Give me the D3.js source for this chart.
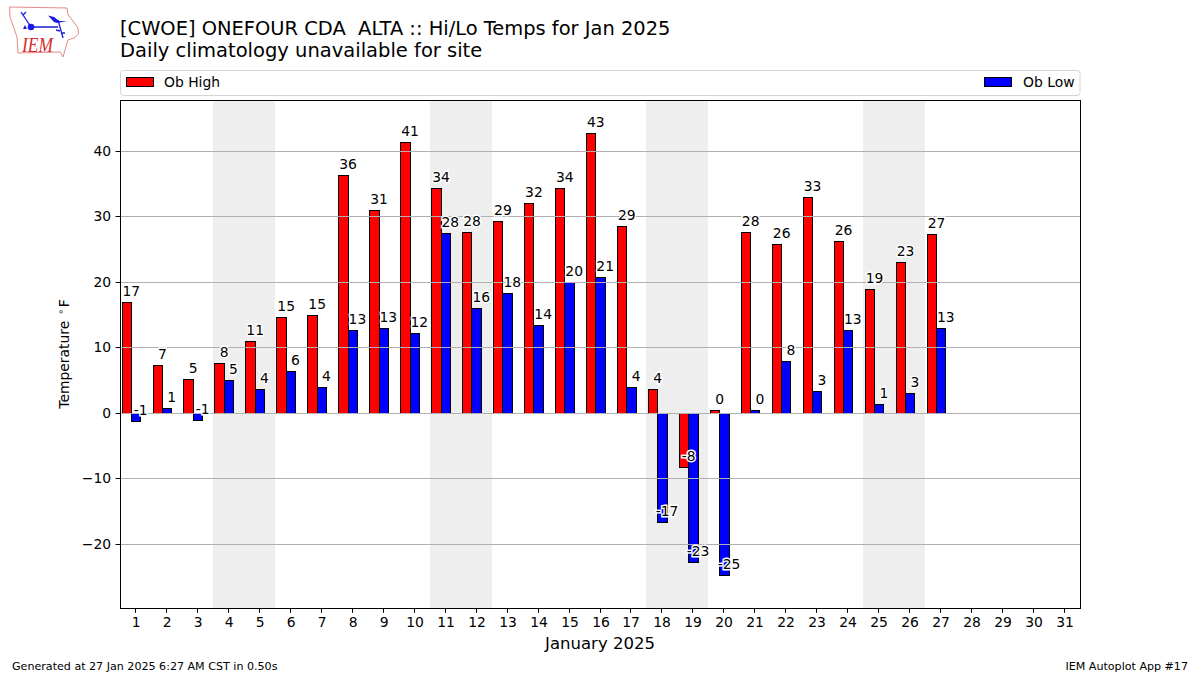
<!DOCTYPE html>
<html><head><meta charset="utf-8">
<script src="https://cdn.jsdelivr.net/npm/d3@7"></script>
<style>html,body{margin:0;padding:0;background:#fff}svg{display:block}text{font-family:"DejaVu Sans",sans-serif;fill:#000}</style>
</head><body><svg id="c" width="1200" height="675"></svg>
<script>
const days = d3.range(1, 28);
const allDays = d3.range(1, 32);
const highs = [16.9,7.3,5.2,7.6,11,14.6,14.9,36.3,31,41.3,34.3,27.6,29.2,32,34.3,42.7,28.5,3.6,-8.3,0.4,27.6,25.7,33,26.2,18.9,23,27.3];
const lows = [-1.2,0.7,-1.1,5,3.6,6.4,3.9,12.6,13,12.2,27.5,16,18.3,13.4,19.9,20.7,3.9,-16.7,-22.8,-24.7,0.4,7.9,3.3,12.6,1.3,3,12.9];
const highLabels = [17,7,5,8,11,15,15,36,31,41,34,28,29,32,34,43,29,4,-8,0,28,26,33,26,19,23,27];
const lowLabels = [-1,1,-1,5,4,6,4,13,13,12,28,16,18,14,20,21,4,-17,-23,-25,0,8,3,13,1,3,13];
const weekends = [[4,5],[11,12],[18,19],[25,26]];
const yTicks = [-20,-10,0,10,20,30,40];

const svg = d3.select("#c");
const L=120,R=1080,T=100,B=608;
const x = d3.scaleLinear().domain([0.5,31.5]).range([L,R]);
const y = d3.scaleLinear().domain([47.72,-29.75]).range([T,B]);
const px = v => Math.round(v)+.5;

svg.append("g").selectAll("rect").data(weekends).join("rect")
  .attr("x",d=>Math.round(x(d[0]-0.5))).attr("width",d=>Math.round(x(d[1]+0.5))-Math.round(x(d[0]-0.5)))
  .attr("y",T).attr("height",B-T).attr("fill","#eeeeee");

function bars(vals,off,col){
  svg.append("g").selectAll("rect").data(vals).join("rect")
    .attr("x",(d,i)=>px(x(days[i]+off))).attr("width",(d,i)=>px(x(days[i]+off+0.3))-px(x(days[i]+off)))
    .attr("y",d=>px(Math.min(y(d),y(0)))).attr("height",d=>px(Math.max(y(d),y(0)))-px(Math.min(y(d),y(0))))
    .attr("fill",col).attr("stroke","#000").attr("stroke-width",1);
}
bars(highs,-0.45,"#ff0000");
bars(lows,-0.15,"#0000ff");

svg.append("g").selectAll("line").data(yTicks).join("line")
  .attr("x1",L).attr("x2",R).attr("y1",d=>px(y(d))).attr("y2",d=>px(y(d)))
  .attr("stroke","#b0b0b0").attr("stroke-width",1);

function labels(vals,labs,off){
  svg.append("g").selectAll("text").data(vals).join("text")
    .attr("x",(d,i)=>x(days[i]+off)+.5).attr("y",d=>y(d)-6)
    .attr("text-anchor","middle").attr("font-size",13.9)
    .attr("stroke","#fff").attr("stroke-width",2.8).attr("paint-order","stroke")
    .text((d,i)=>labs[i]);
}
labels(highs,highLabels,-0.15);
labels(lows,lowLabels,0.15);

svg.append("rect").attr("x",L+.5).attr("y",T+.5).attr("width",R-L).attr("height",B-T)
  .attr("fill","none").attr("stroke","#000").attr("stroke-width",1);

const xAxis = d3.axisBottom(x).tickValues(allDays).tickFormat(d3.format("d")).tickSize(4.9).tickPadding(4.5).offset(0);
const gx = svg.append("g").attr("transform",`translate(0,${B})`).call(xAxis);
gx.select(".domain").remove();
gx.selectAll(".tick").attr("transform",d=>`translate(${Math.floor(x(d))+.5},0)`);
gx.selectAll("text").attr("x",.6).attr("font-size",13.9).style("font-family",'"DejaVu Sans"');
const yAxis = d3.axisLeft(y).tickValues(yTicks).tickFormat(d=>String(d).replace("-","\u2212")).tickSize(4.9).tickPadding(4.5).offset(0);
const gy = svg.append("g").attr("transform",`translate(${L+.5},0)`).call(yAxis);
gy.select(".domain").remove();
gy.selectAll(".tick").attr("transform",d=>`translate(0,${px(y(d))})`);
gy.selectAll("text").attr("font-size",13.9).style("font-family",'"DejaVu Sans"');

svg.append("text").attr("x",120).attr("y",35).attr("font-size",19.45).style("white-space","pre").text("[CWOE] ONEFOUR CDA  ALTA :: Hi/Lo Temps for Jan 2025");
svg.append("text").attr("x",120).attr("y",57).attr("font-size",19.5).text("Daily climatology unavailable for site");

svg.append("rect").attr("x",120.5).attr("y",70.5).attr("width",959.5).attr("height",25).attr("rx",3).attr("fill","#fff").attr("stroke","#d5d5d5");
svg.append("rect").attr("x",126.5).attr("y",77.5).attr("width",27).attr("height",9).attr("fill","#ff0000").attr("stroke","#000");
svg.append("text").attr("x",164).attr("y",86.5).attr("font-size",13.9).text("Ob High");
svg.append("rect").attr("x",984.5).attr("y",77.5).attr("width",27).attr("height",9).attr("fill","#0000ff").attr("stroke","#000");
svg.append("text").attr("x",1023).attr("y",86.5).attr("font-size",13.9).text("Ob Low");

const yl = svg.append("text").attr("transform","translate(68.5,354) rotate(-90)").attr("text-anchor","middle").attr("font-size",13.9).style("white-space","pre");
yl.append("tspan").text("Temperature ");
yl.append("tspan").attr("font-size",9.7).attr("dx",1.5).attr("dy",-5).text("\u2218");
yl.append("tspan").attr("dx",1.5).attr("dy",5).text("F");
svg.append("text").attr("x",600).attr("y",649).attr("text-anchor","middle").attr("font-size",16.5).text("January 2025");
svg.append("text").attr("x",12).attr("y",670).attr("font-size",11.1).text("Generated at 27 Jan 2025 6:27 AM CST in 0.50s");
svg.append("text").attr("x",1188).attr("y",670).attr("text-anchor","end").attr("font-size",11.1).text("IEM Autoplot App #17");

const logo = svg.append("g");
logo.append("path").attr("d","M9.5 7 L67 8 L68 15 L73 21 L78 28 L78.5 34 L74 38 L68 40 L65 50 L63 57 L60 52 L18 53 L17 37 L10 17 Z")
  .attr("fill","#fff").attr("stroke","#e58a8a").attr("stroke-width",1);
logo.append("text").attr("x",22).attr("y",52).attr("font-size",21).attr("textLength",31).attr("lengthAdjust","spacingAndGlyphs").style("font-family",'"Liberation Serif"').style("font-style","italic").style("fill","#d62b2b").text("IEM");
logo.append("path").attr("d","M31 27 L58 27 M23 15 L31 27 M23 15 L21 12 M23 15 L26 12 M58 20 L63 38 M60 31 L56 30 M62 33 L65 33")
  .attr("fill","none").attr("stroke","#1a1ae0").attr("stroke-width",1.3);
logo.append("circle").attr("cx",31).attr("cy",27).attr("r",3.3).attr("fill","#1a1ae0");
logo.append("path").attr("d","M48 15.5 L54 17 L59 21 L67 21 L57 23 L54 22 Z").attr("fill","#1a1ae0");
logo.append("path").attr("d","M23 29 L25 25 L27 29 Z").attr("fill","#1a1ae0");
</script></body></html>
